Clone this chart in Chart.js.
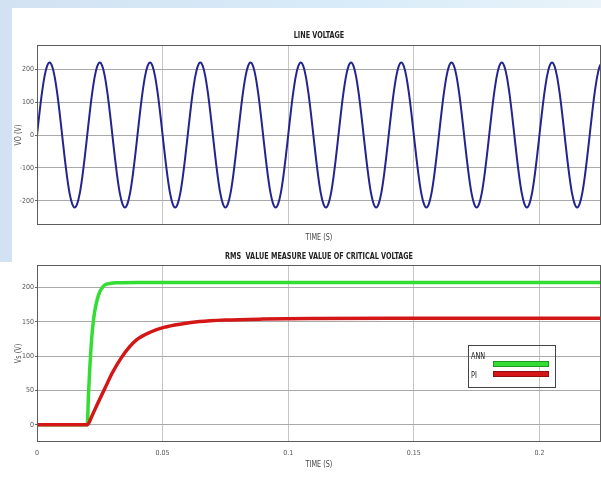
<!DOCTYPE html>
<html>
<head>
<meta charset="utf-8">
<title>Line voltage and RMS value</title>
<script src="https://cdn.jsdelivr.net/npm/chart.js@4.4.1/dist/chart.umd.min.js"></script>
<style>
  html, body { margin: 0; padding: 0; }
  body { width: 601px; height: 479px; position: relative; overflow: hidden; background: #fff; }
  #strip-top { position: absolute; left: 0; top: 0; width: 601px; height: 8px;
    background: linear-gradient(to right, #d3e2f2, #d8ecf9 60%, #e9f3f9); }
  #strip-left { position: absolute; left: 0; top: 0; width: 12px; height: 262px; background: #d3e2f2; }
  canvas { position: absolute; left: 0; }
  #top-chart { top: 0; }
  #bottom-chart { top: 245px; }
</style>
</head>
<body>
<div id="strip-top"></div>
<div id="strip-left"></div>
<canvas id="top-chart" width="601" height="245"></canvas>
<canvas id="bottom-chart" width="601" height="234"></canvas>
<script>
// line voltage, sampled every 1 ms from t = 0
var sampleStep = 0.001;
var lineVoltage = [
    0, 68, 129, 178, 209, 220, 209, 178, 129, 68, 0, -68, -129, -178, -209, -220, -209, -178, -129, -68,
    0, 68, 129, 178, 209, 220, 209, 178, 129, 68, 0, -68, -129, -178, -209, -220, -209, -178, -129, -68,
    0, 68, 129, 178, 209, 220, 209, 178, 129, 68, 0, -68, -129, -178, -209, -220, -209, -178, -129, -68,
    0, 68, 129, 178, 209, 220, 209, 178, 129, 68, 0, -68, -129, -178, -209, -220, -209, -178, -129, -68,
    0, 68, 129, 178, 209, 220, 209, 178, 129, 68, 0, -68, -129, -178, -209, -220, -209, -178, -129, -68,
    0, 68, 129, 178, 209, 220, 209, 178, 129, 68, 0, -68, -129, -178, -209, -220, -209, -178, -129, -68,
    0, 68, 129, 178, 209, 220, 209, 178, 129, 68, 0, -68, -129, -178, -209, -220, -209, -178, -129, -68,
    0, 68, 129, 178, 209, 220, 209, 178, 129, 68, 0, -68, -129, -178, -209, -220, -209, -178, -129, -68,
    0, 68, 129, 178, 209, 220, 209, 178, 129, 68, 0, -68, -129, -178, -209, -220, -209, -178, -129, -68,
    0, 68, 129, 178, 209, 220, 209, 178, 129, 68, 0, -68, -129, -178, -209, -220, -209, -178, -129, -68,
    0, 68, 129, 178, 209, 220, 209, 178, 129, 68, 0, -68, -129, -178, -209, -220, -209, -178, -129, -68,
    0, 68, 129, 178, 209, 220
];

// rms value, ANN controller
var annTime = [0, 0.02, 0.0205, 0.021, 0.0215, 0.022, 0.0225, 0.023, 0.024, 0.025, 0.026, 0.027, 0.029, 0.032, 0.04, 0.06, 0.1, 0.15, 0.2, 0.225];
var annValues = [0, 0, 45, 82, 112, 136, 153, 166, 183, 194, 200, 204, 206, 207, 207.5, 207.5, 207.5, 207.5, 207.5, 207.5];

// rms value, PI controller
var piTime = [0, 0.02, 0.022, 0.024, 0.027, 0.03, 0.0336, 0.0369, 0.0396, 0.045, 0.0505, 0.0575, 0.0647, 0.075, 0.09, 0.11, 0.14, 0.225];
var piValues = [0, 0, 14, 30, 53, 76, 98, 114, 124, 135, 142, 147, 150.5, 152.8, 154.2, 155, 155.5, 155.5];

var timeTicks = [0, 0.05, 0.1, 0.15, 0.2];
var topYTicks = [-200, -100, 0, 100, 200];
var bottomYTicks = [0, 50, 100, 150, 200];

var narrowFont = "'Liberation Sans Narrow', 'DejaVu Sans Condensed', 'Liberation Sans', sans-serif";
Chart.defaults.font.family = narrowFont;
Chart.defaults.font.size = 7;
Chart.defaults.color = '#555';

function toPoints(xs, ys) {
    return ys.map(function (y, i) { return { x: xs[i], y: y }; });
}

function drawNarrow(ctx, text, x, y, font, color, angle, align) {
    ctx.save();
    ctx.translate(x, y);
    if (angle) ctx.rotate(angle);
    ctx.scale(0.8, 1);
    ctx.font = font;
    ctx.fillStyle = color;
    ctx.textAlign = align || 'center';
    ctx.textBaseline = 'middle';
    ctx.fillText(text, 0, 0);
    ctx.restore();
}

// frame round the plot plus title and axis titles
function framePlugin(title, titleGap, xTitle, xTitleGap, yTitle) {
    return {
        id: 'frame',
        afterDraw: function (chart) {
            var ctx = chart.ctx;
            var a = chart.chartArea;
            ctx.save();
            ctx.strokeStyle = '#5c5c5c';
            ctx.lineWidth = 1;
            ctx.strokeRect(a.left + 0.5, a.top + 0.5, a.right - a.left - 1, a.bottom - a.top - 1);
            ctx.restore();
            var cx = (a.left + a.right) / 2;
            drawNarrow(ctx, title, cx, a.top - titleGap, 'bold 9px ' + narrowFont, '#222');
            drawNarrow(ctx, xTitle, cx, a.bottom + xTitleGap, '9px ' + narrowFont, '#444');
            drawNarrow(ctx, yTitle, 19, (a.top + a.bottom) / 2, '9px ' + narrowFont, '#555', -Math.PI / 2);
        }
    };
}

var legendPlugin = {
    id: 'boxLegend',
    afterDraw: function (chart) {
        var ctx = chart.ctx;
        var a = chart.chartArea;
        var x0 = a.left + 431, y0 = a.top + 80;
        ctx.save();
        ctx.strokeStyle = '#444';
        ctx.lineWidth = 1;
        ctx.strokeRect(x0 + 0.5, y0 + 0.5, 87, 42);
        chart.data.datasets.forEach(function (ds, i) {
            var ty = y0 + 12 + i * 19;
            drawNarrow(ctx, ds.label, x0 + 3, ty, '9px ' + narrowFont, '#222', 0, 'left');
            var by = y0 + 16 + i * 10;
            ctx.fillStyle = ds.borderColor;
            ctx.strokeStyle = ds.legendEdge;
            ctx.fillRect(x0 + 25, by, 55, 5);
            ctx.strokeRect(x0 + 25.5, by + 0.5, 55, 5);
        });
        ctx.restore();
    }
};

function timeAxis(height, showLabels) {
    return {
        type: 'linear',
        min: 0,
        max: 0.2245,
        afterBuildTicks: function (scale) {
            scale.ticks = timeTicks.map(function (v) { return { value: v }; });
        },
        afterFit: function (scale) { scale.height = height; },
        ticks: {
            display: showLabels,
            padding: 7,
            maxRotation: 0,
            autoSkip: false,
            callback: function (v) { return String(v); }
        },
        grid: { color: '#c6c6c6', drawTicks: false },
        border: { display: false }
    };
}

function valueAxis(min, max, tickList) {
    return {
        type: 'linear',
        min: min,
        max: max,
        afterBuildTicks: function (scale) {
            scale.ticks = tickList.map(function (v) { return { value: v }; });
        },
        afterFit: function (scale) { scale.width = 37; },
        ticks: { padding: 1, autoSkip: false },
        grid: { color: '#a9a9a9', tickLength: 2, tickColor: '#666' },
        border: { display: false }
    };
}

new Chart(document.getElementById('top-chart'), {
    type: 'line',
    data: {
        datasets: [{
            label: 'VO',
            data: lineVoltage.map(function (v, i) { return { x: i * sampleStep, y: v }; }),
            borderColor: '#24248f',
            borderWidth: 2,
            pointRadius: 0,
            cubicInterpolationMode: 'monotone'
        }]
    },
    options: {
        responsive: false,
        animation: false,
        layout: { padding: { top: 45, left: 0, right: 0, bottom: 0 } },
        plugins: { legend: { display: false }, tooltip: { enabled: false } },
        scales: {
            x: timeAxis(20, false),
            y: valueAxis(-273, 273, topYTicks)
        }
    },
    plugins: [framePlugin('LINE VOLTAGE', 9, 'TIME (S)', 13, 'VO (V)')]
});

new Chart(document.getElementById('bottom-chart'), {
    type: 'line',
    data: {
        datasets: [{
            label: 'ANN',
            data: toPoints(annTime, annValues),
            borderColor: '#33dd33',
            legendEdge: '#1f9a1f',
            borderWidth: 3.5,
            pointRadius: 0,
            cubicInterpolationMode: 'monotone',
            order: 2
        }, {
            label: 'PI',
            data: toPoints(piTime, piValues),
            borderColor: '#d41616',
            legendEdge: '#8e1010',
            borderWidth: 3.5,
            pointRadius: 0,
            cubicInterpolationMode: 'monotone',
            order: 1
        }]
    },
    options: {
        responsive: false,
        animation: false,
        layout: { padding: { top: 20, left: 0, right: 0, bottom: 0 } },
        plugins: { legend: { display: false }, tooltip: { enabled: false } },
        scales: {
            x: timeAxis(37, true),
            y: valueAxis(-25, 233, bottomYTicks)
        }
    },
    plugins: [framePlugin('RMS  VALUE MEASURE VALUE OF CRITICAL VOLTAGE', 8, 'TIME (S)', 23, 'Vs (V)'), legendPlugin]
});
</script>
</body>
</html>
